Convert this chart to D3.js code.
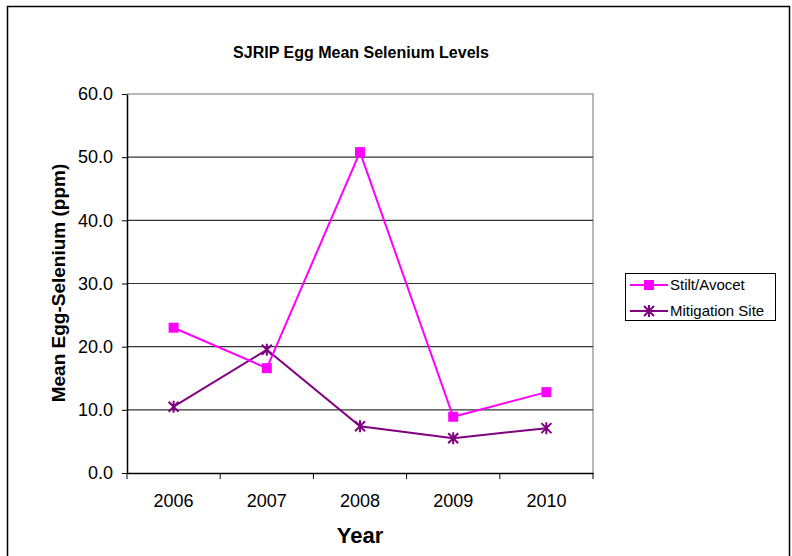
<!DOCTYPE html>
<html><head><meta charset="utf-8">
<script src="https://cdn.jsdelivr.net/npm/d3@7"></script>
<style>body{margin:0;background:#fff}svg{display:block;font-family:"Liberation Sans",Arial,sans-serif}</style>
</head><body><svg id="c" width="792" height="556"></svg>
<script>
const years = ["2006","2007","2008","2009","2010"];
const stiltAvocet = [23.0, 16.6, 50.8, 8.9, 12.8];
const mitigationSite = [10.5, 19.5, 7.4, 5.5, 7.1];
const yTicks = [0,10,20,30,40,50,60];
const seriesNames = ["Stilt/Avocet","Mitigation Site"];

const svg = d3.select("#c");
const L=127, R=593, T=94, B=473;
const x = d3.scaleBand().domain(years).range([L,R]);
const y = d3.scaleLinear().domain([0,60]).range([B,T]);
const FF = "Liberation Sans, Arial, sans-serif";

svg.append("rect").attr("x",7.5).attr("y",6.5).attr("width",782).attr("height",570)
  .attr("fill","none").attr("stroke","#000").attr("stroke-width",1.5);

svg.append("text").attr("x",361).attr("y",58).attr("text-anchor","middle")
  .attr("font-weight","bold").attr("font-size",16).text("SJRIP Egg Mean Selenium Levels");

// plot border
svg.append("path").attr("d",`M${L},${T}H${R}V${B}`).attr("fill","none").attr("stroke","#a0a0a0").attr("stroke-width",1.5);
// gridlines
svg.append("g").selectAll("line").data(yTicks.filter(d=>d>0 && d<60)).join("line")
  .attr("x1",L).attr("x2",R).attr("y1",d=>y(d)).attr("y2",d=>y(d)).attr("stroke","#333").attr("stroke-width",1.2);

// y axis
const ya = svg.append("g").attr("transform",`translate(${L},0)`)
  .call(d3.axisLeft(y).tickValues(yTicks).tickFormat(d3.format(".1f")).tickSize(5).tickSizeOuter(0));
ya.select(".domain").attr("stroke","#000").attr("stroke-width",1.5);
ya.selectAll(".tick line").attr("stroke","#000");
ya.selectAll("text").attr("font-size",18).attr("font-family",FF).attr("x",-14).attr("fill","#000");

// x axis
const xa = svg.append("g").attr("transform",`translate(0,${B})`)
  .call(d3.axisBottom(x).tickSize(0).tickSizeOuter(0));
xa.select(".domain").attr("stroke","#000").attr("stroke-width",1.5);
xa.selectAll("text").attr("font-size",18).attr("font-family",FF).attr("dy",0).attr("y",34).attr("fill","#000");
const bounds = years.map(d=>x(d)).concat([R]);
svg.append("g").selectAll("line").data(bounds).join("line")
  .attr("x1",d=>d).attr("x2",d=>d).attr("y1",B).attr("y2",B+6).attr("stroke","#000");

svg.append("text").attr("transform",`translate(65,283) rotate(-90)`).attr("text-anchor","middle")
  .attr("font-weight","bold").attr("font-size",19).text("Mean Egg-Selenium (ppm)");
svg.append("text").attr("x",360).attr("y",543).attr("text-anchor","middle")
  .attr("font-weight","bold").attr("font-size",22).text("Year");

const cx = d=>x(d)+x.bandwidth()/2;
const line = d3.line().x(d=>cx(d[0])).y(d=>y(d[1]));
const sData = years.map((d,i)=>[d,stiltAvocet[i]]);
const mData = years.map((d,i)=>[d,mitigationSite[i]]);
const magenta="#ff00ff", purple="#800080";

svg.append("path").attr("d",line(mData)).attr("fill","none").attr("stroke",purple).attr("stroke-width",2);
svg.append("path").attr("d",line(sData)).attr("fill","none").attr("stroke",magenta).attr("stroke-width",2);

function star(g,px,py,s){
  const p = `M${px-s},${py-s}L${px+s},${py+s}M${px-s},${py+s}L${px+s},${py-s}M${px},${py-s-1}L${px},${py+s+1}`;
  g.append("path").attr("d",p).attr("stroke",purple).attr("stroke-width",2).attr("fill","none");
}
const mg = svg.append("g");
mData.forEach(d=>star(mg,cx(d[0]),y(d[1]),5));
svg.append("g").selectAll("rect").data(sData).join("rect")
  .attr("x",d=>cx(d[0])-5).attr("y",d=>y(d[1])-5).attr("width",10).attr("height",10).attr("fill",magenta);

// legend
const lg = svg.append("g");
lg.append("rect").attr("x",625.5).attr("y",273.5).attr("width",150).attr("height",47).attr("fill","#fff").attr("stroke","#000");
const ly=[285,311];
lg.append("line").attr("x1",630).attr("x2",668).attr("y1",ly[0]).attr("y2",ly[0]).attr("stroke",magenta).attr("stroke-width",2);
lg.append("rect").attr("x",644).attr("y",ly[0]-5).attr("width",10).attr("height",10).attr("fill",magenta);
lg.append("line").attr("x1",630).attr("x2",668).attr("y1",ly[1]).attr("y2",ly[1]).attr("stroke",purple).attr("stroke-width",2);
star(lg,649,ly[1],5);
seriesNames.forEach((n,i)=>lg.append("text").attr("x",670).attr("y",ly[i]+5).attr("font-size",15).text(n));
</script></body></html>
